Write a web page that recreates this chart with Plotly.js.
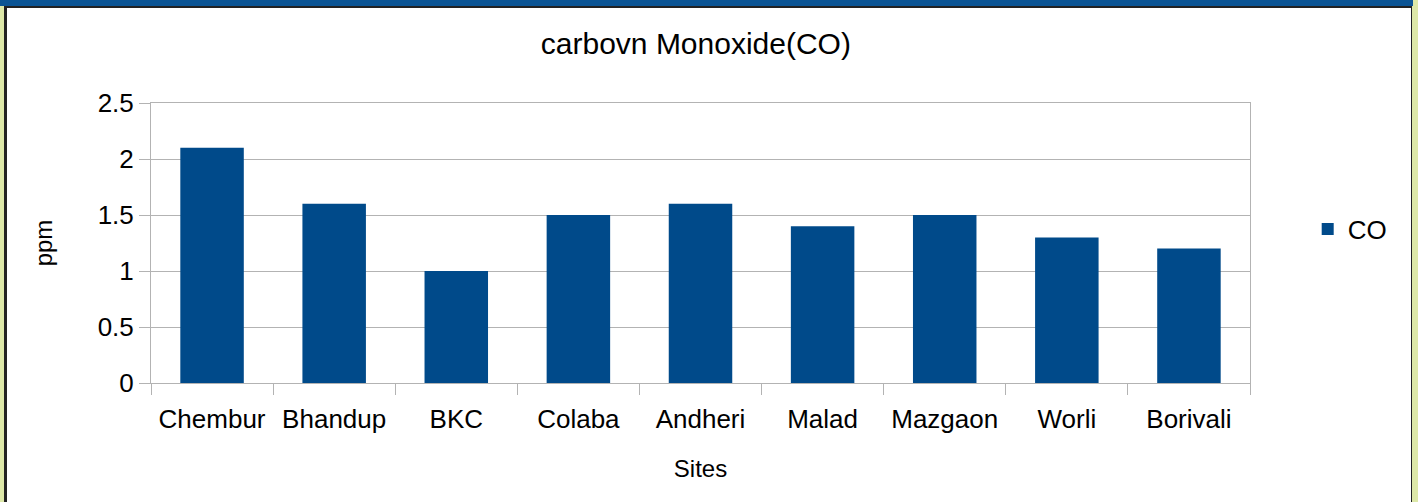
<!DOCTYPE html>
<html>
<head>
<meta charset="utf-8">
<script src="https://cdn.plot.ly/plotly-3.0.1.min.js"></script>
<style>
  html, body { margin: 0; padding: 0; width: 1418px; height: 502px; overflow: hidden; background: #dde8a8; }
  #blue { position: absolute; left: 0; top: 0; width: 1413px; height: 6px; background: #0b5494; }
  #frame { position: absolute; left: 4px; top: 6px; width: 1408px; height: 496px; background: #222; }
  #inner { position: absolute; left: 7px; top: 8px; width: 1404px; height: 494px; background: #ffffff; }
  #chart { position: absolute; left: 0; top: 0; width: 1418px; height: 502px; }
</style>
</head>
<body>
<div id="blue"></div>
<div id="frame"></div>
<div id="inner"></div>
<div id="chart"></div>
<script>
const sites = ["Chembur", "Bhandup", "BKC", "Colaba", "Andheri", "Malad", "Mazgaon", "Worli", "Borivali"];
const coValues = [2.1, 1.6, 1.0, 1.5, 1.6, 1.4, 1.5, 1.3, 1.2];
const seriesName = "CO";
const yTickValues = [0, 0.5, 1, 1.5, 2, 2.5];

const fontFamily = "Liberation Sans, Arial, sans-serif";
const gridColor = "#b3b3b3";

const data = [{
  type: "bar",
  x: sites,
  y: coValues,
  name: seriesName,
  marker: { color: "#004a8a", line: { width: 0 } },
  showlegend: true,
  hoverinfo: "x+y"
}];

const layout = {
  width: 1418,
  height: 502,
  paper_bgcolor: "rgba(0,0,0,0)",
  plot_bgcolor: "rgba(0,0,0,0)",
  margin: { l: 151, r: 168, t: 103, b: 119, pad: 0 },
  bargap: 0.48,
  showlegend: true,
  title: {
    text: "carbovn Monoxide(CO)",
    font: { family: fontFamily, size: 30, color: "#000" },
    x: 0.4958, xref: "paper", xanchor: "center",
    y: 0.914, yref: "container", yanchor: "middle"
  },
  legend: {
    x: 1.0525, xanchor: "left",
    y: 0.55, yanchor: "middle",
    font: { family: fontFamily, size: 26, color: "#000" },
    bgcolor: "rgba(0,0,0,0)",
    itemwidth: 30
  },
  xaxis: {
    type: "category",
    tickson: "boundaries",
    ticks: "outside",
    ticklen: 11,
    tickwidth: 1,
    tickcolor: gridColor,
    showline: true,
    mirror: true,
    linecolor: gridColor,
    linewidth: 1,
    showgrid: false,
    tickfont: { family: fontFamily, size: 26, color: "#000" },
    ticklabelstandoff: 13,
    title: { text: "Sites", font: { family: fontFamily, size: 24, color: "#000" }, standoff: 26 },
    automargin: false
  },
  yaxis: {
    range: [0, 2.5],
    tickvals: yTickValues,
    ticks: "outside",
    ticklen: 11,
    tickwidth: 1,
    tickcolor: gridColor,
    showline: true,
    mirror: true,
    linecolor: gridColor,
    linewidth: 1,
    showgrid: true,
    gridcolor: gridColor,
    gridwidth: 1,
    zeroline: false,
    tickfont: { family: fontFamily, size: 26, color: "#000" },
    title: { text: "ppm", font: { family: fontFamily, size: 24, color: "#000" }, standoff: 38 },
    automargin: false
  }
};

Plotly.newPlot("chart", data, layout, { staticPlot: true, displayModeBar: false });
</script>
</body>
</html>
